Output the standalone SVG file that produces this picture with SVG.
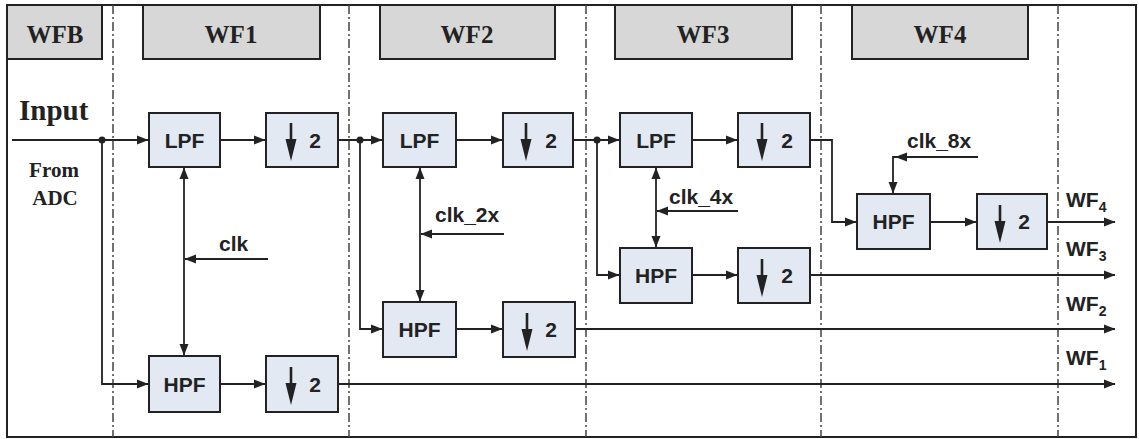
<svg xmlns="http://www.w3.org/2000/svg" width="1139" height="439" viewBox="0 0 1139 439">
<style>
.hdr{fill:#d7d7d7;stroke:#222;stroke-width:2}
.blk{fill:#e3e9f3;stroke:#222;stroke-width:2}
.ht{font-family:"Liberation Serif",serif;font-weight:bold;font-size:25px;fill:#222;text-anchor:middle}
.bt{font-family:"Liberation Sans",Arial,sans-serif;font-weight:bold;font-size:21px;fill:#222;text-anchor:middle}
.ct{font-family:"Liberation Sans",Arial,sans-serif;font-weight:bold;font-size:21px;fill:#222}
.wt{font-family:"Liberation Sans",Arial,sans-serif;font-weight:bold;font-size:21px;fill:#222}
.sub{font-size:14px}
.ln{fill:none;stroke:#222;stroke-width:1.8}
.stem{fill:none;stroke:#222;stroke-width:2.6}
.sep{fill:none;stroke:#444;stroke-width:1.5;stroke-dasharray:9,3,2,3}
.dot{fill:#222}
</style>
<defs>
<marker id="ah" markerUnits="userSpaceOnUse" markerWidth="12" markerHeight="10" refX="11" refY="5" orient="auto-start-reverse" viewBox="0 0 12 10">
<path d="M0,0.5 L11.5,5 L0,9.5 z" fill="#222"/>
</marker>
</defs>
<rect x="0" y="0" width="1139" height="439" fill="#fff"/>
<rect x="7" y="5" width="1129" height="432" fill="none" stroke="#222" stroke-width="2"/>
<g id="separators">
<line class="sep" x1="113" y1="5" x2="113" y2="437"/>
<line class="sep" x1="349" y1="5" x2="349" y2="437"/>
<line class="sep" x1="586" y1="5" x2="586" y2="437"/>
<line class="sep" x1="821" y1="5" x2="821" y2="437"/>
<line class="sep" x1="1058" y1="5" x2="1058" y2="437"/>
</g>
<g id="headers">
<g id="h-wfb"><rect class="hdr" x="7" y="5" width="95" height="54"/><text class="ht" x="55" y="43">WFB</text></g>
<g id="h-wf1"><rect class="hdr" x="143" y="5" width="177" height="54"/><text class="ht" x="231" y="43">WF1</text></g>
<g id="h-wf2"><rect class="hdr" x="380" y="5" width="175" height="54"/><text class="ht" x="467" y="43">WF2</text></g>
<g id="h-wf3"><rect class="hdr" x="615" y="5" width="177" height="54"/><text class="ht" x="703" y="43">WF3</text></g>
<g id="h-wf4"><rect class="hdr" x="852" y="5" width="176" height="54"/><text class="ht" x="940" y="43">WF4</text></g>
</g>
<g id="input-label">
<text x="19" y="120" font-family="Liberation Serif,serif" font-weight="bold" font-size="29" fill="#222">Input</text>
<text x="54" y="177" font-family="Liberation Serif,serif" font-weight="bold" font-size="21" fill="#222" text-anchor="middle">From</text>
<text x="55" y="205" font-family="Liberation Serif,serif" font-weight="bold" font-size="21" fill="#222" text-anchor="middle">ADC</text>
</g>
<g id="connectors">
<path class="ln" d="M12,140 H148" marker-end="url(#ah)"/>
<path class="ln" d="M102,140 V384 H148" marker-end="url(#ah)"/>
<path class="ln" d="M220,140 H265" marker-end="url(#ah)"/>
<path class="ln" d="M338,140 H382" marker-end="url(#ah)"/>
<path class="ln" d="M360,140 V329 H382" marker-end="url(#ah)"/>
<path class="ln" d="M220,384 H265" marker-end="url(#ah)"/>
<path class="ln" d="M338,384 H1115" marker-end="url(#ah)"/>
<path class="ln" d="M184,168 V355" marker-start="url(#ah)" marker-end="url(#ah)"/>
<path class="ln" d="M268,259 H185" marker-end="url(#ah)"/>
<path class="ln" d="M456,140 H502" marker-end="url(#ah)"/>
<path class="ln" d="M573,140 H619" marker-end="url(#ah)"/>
<path class="ln" d="M597,140 V275 H619" marker-end="url(#ah)"/>
<path class="ln" d="M456,329 H502" marker-end="url(#ah)"/>
<path class="ln" d="M575,329 H1115" marker-end="url(#ah)"/>
<path class="ln" d="M420,168 V301" marker-start="url(#ah)" marker-end="url(#ah)"/>
<path class="ln" d="M504,234 H421" marker-end="url(#ah)"/>
<path class="ln" d="M692,140 H737" marker-end="url(#ah)"/>
<path class="ln" d="M810,140 H832 V222 H856" marker-end="url(#ah)"/>
<path class="ln" d="M692,275 H737" marker-end="url(#ah)"/>
<path class="ln" d="M810,275 H1115" marker-end="url(#ah)"/>
<path class="ln" d="M656,168 V247" marker-start="url(#ah)" marker-end="url(#ah)"/>
<path class="ln" d="M738,211 H657" marker-end="url(#ah)"/>
<path class="ln" d="M978,157 H893 V193" marker-end="url(#ah)"/>
<path d="M895,157 L907,152.5 L907,161.5 z" fill="#222"/>
<path class="ln" d="M930,222 H976" marker-end="url(#ah)"/>
<path class="ln" d="M1047,222 H1115" marker-end="url(#ah)"/>
<circle class="dot" cx="102" cy="140" r="3.5"/>
<circle class="dot" cx="360" cy="140" r="3.5"/>
<circle class="dot" cx="597" cy="140" r="3.5"/>
</g>
<g id="clk-labels">
<text class="ct" x="219" y="251">clk</text>
<text class="ct" x="435" y="222">clk_2x</text>
<text class="ct" x="669" y="204">clk_4x</text>
<text class="ct" x="907" y="148">clk_8x</text>
</g>
<g id="lpf1"><rect class="blk" x="149" y="113" width="71" height="54"/><text class="bt" x="184.5" y="148">LPF</text></g>
<g id="dec1"><rect class="blk" x="266" y="113" width="72" height="54"/><path class="stem" d="M291,123 V142"/><path d="M285.5,139 L296.5,139 L291,161 z" fill="#222"/><text class="bt" x="315" y="148">2</text></g>
<g id="hpf1"><rect class="blk" x="149" y="356" width="71" height="56"/><text class="bt" x="184.5" y="392">HPF</text></g>
<g id="dec1b"><rect class="blk" x="266" y="356" width="72" height="56"/><path class="stem" d="M291,367 V386"/><path d="M285.5,383 L296.5,383 L291,405 z" fill="#222"/><text class="bt" x="315" y="392">2</text></g>
<g id="lpf2"><rect class="blk" x="383" y="113" width="73" height="54"/><text class="bt" x="419.5" y="148">LPF</text></g>
<g id="dec2"><rect class="blk" x="503" y="113" width="70" height="54"/><path class="stem" d="M526,123 V142"/><path d="M520.5,139 L531.5,139 L526,161 z" fill="#222"/><text class="bt" x="551" y="148">2</text></g>
<g id="hpf2"><rect class="blk" x="383" y="302" width="73" height="55"/><text class="bt" x="419.5" y="337">HPF</text></g>
<g id="dec2b"><rect class="blk" x="503" y="302" width="72" height="55"/><path class="stem" d="M527,313 V332"/><path d="M521.5,329 L532.5,329 L527,351 z" fill="#222"/><text class="bt" x="551" y="337">2</text></g>
<g id="lpf3"><rect class="blk" x="620" y="113" width="72" height="54"/><text class="bt" x="656" y="148">LPF</text></g>
<g id="dec3"><rect class="blk" x="738" y="113" width="72" height="54"/><path class="stem" d="M762,123 V142"/><path d="M756.5,139 L767.5,139 L762,161 z" fill="#222"/><text class="bt" x="787" y="148">2</text></g>
<g id="hpf3"><rect class="blk" x="620" y="248" width="72" height="55"/><text class="bt" x="656" y="283">HPF</text></g>
<g id="dec3b"><rect class="blk" x="738" y="248" width="72" height="55"/><path class="stem" d="M762,259 V278"/><path d="M756.5,275 L767.5,275 L762,297 z" fill="#222"/><text class="bt" x="787" y="283">2</text></g>
<g id="hpf4"><rect class="blk" x="857" y="194" width="73" height="55"/><text class="bt" x="893.5" y="229">HPF</text></g>
<g id="dec4"><rect class="blk" x="977" y="194" width="70" height="55"/><path class="stem" d="M1000,205 V224"/><path d="M994.5,221 L1005.5,221 L1000,243 z" fill="#222"/><text class="bt" x="1024" y="229">2</text></g>
<g id="out-labels">
<text class="wt" x="1066" y="207">WF<tspan class="sub" dy="5">4</tspan></text>
<text class="wt" x="1066" y="256">WF<tspan class="sub" dy="5">3</tspan></text>
<text class="wt" x="1066" y="311">WF<tspan class="sub" dy="5">2</tspan></text>
<text class="wt" x="1066" y="365">WF<tspan class="sub" dy="5">1</tspan></text>
</g>
</svg>
